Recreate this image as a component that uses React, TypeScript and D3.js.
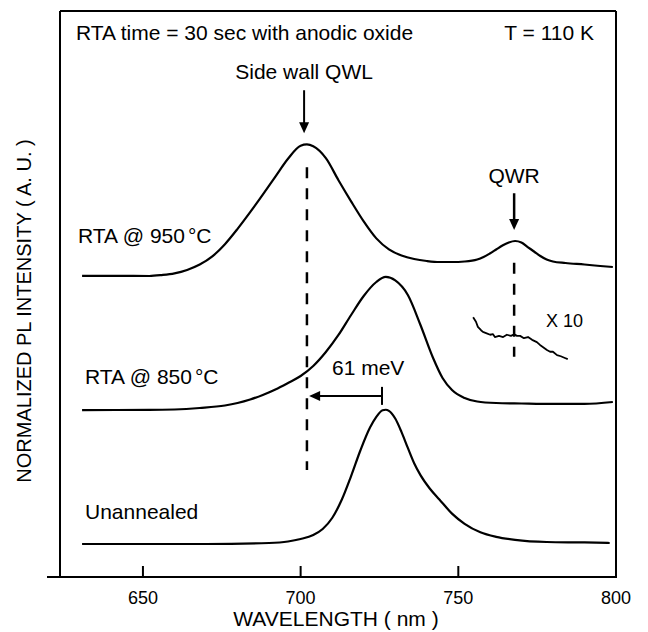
import React from "react";
import * as d3 from "d3";

// ---- data (wavelength nm, normalized PL intensity A.U. incl. vertical offset) ----
const X_TICKS = [650, 700, 750, 800];

const RTA950: [number, number][] = [
  [630.7, 5.32], [642.0, 5.32], [652, 5.318], [656, 5.335], [660, 5.365], [664, 5.425],
  [668, 5.52], [672, 5.665], [676, 5.88], [680, 6.15], [684, 6.445], [688, 6.755],
  [692, 7.075], [696, 7.39], [700, 7.62], [702, 7.642], [704, 7.61], [708, 7.4],
  [712, 7.01], [716, 6.637], [720, 6.283], [724, 5.983], [728, 5.789], [732, 5.68],
  [736, 5.618], [740, 5.583], [744, 5.565], [748, 5.565], [752, 5.574], [756, 5.609],
  [758, 5.654], [760, 5.716], [762, 5.786], [764, 5.857], [766, 5.91], [768, 5.936],
  [770, 5.91], [772, 5.83], [774, 5.751], [776, 5.671], [778, 5.609], [780, 5.574],
  [784, 5.548], [790, 5.521], [795, 5.495], [799, 5.477],
];

const RTA850: [number, number][] = [
  [630.7, 2.95], [652, 2.951], [660, 2.959], [668, 2.986], [676, 3.03], [680, 3.074],
  [684, 3.136], [688, 3.216], [692, 3.313], [696, 3.428], [700, 3.551], [704, 3.728],
  [708, 3.975], [712, 4.276], [716, 4.629], [720, 4.965], [724, 5.212], [727, 5.301],
  [730, 5.239], [734, 4.982], [738, 4.452], [742, 3.869], [745, 3.516], [748, 3.304],
  [752, 3.163], [756, 3.101], [762, 3.074], [770, 3.065], [780, 3.057], [790, 3.057],
  [799, 3.092],
];

const UNANNEALED: [number, number][] = [
  [630.7, 0.583], [670, 0.583], [690, 0.601], [696, 0.627], [700, 0.671], [704, 0.742],
  [707, 0.848], [710, 1.042], [713, 1.36], [716, 1.784], [719, 2.244], [722, 2.64],
  [724, 2.83], [726, 2.945], [727, 2.955], [728, 2.935], [730, 2.8], [732, 2.56],
  [734, 2.28], [736, 2.01], [738, 1.8], [741, 1.56], [744, 1.37], [748, 1.12],
  [752, 0.94], [757, 0.79], [762, 0.71], [768, 0.656], [778, 0.618], [790, 0.61],
  [798, 0.601],
];

const X10: [number, number][] = [
  [754.7, 4.59], [755.6, 4.51], [756.2, 4.42], [757.2, 4.36], [757.8, 4.33], [758.8, 4.31],
  [760.1, 4.28], [761.0, 4.29], [761.6, 4.24], [762.9, 4.26], [764.2, 4.24], [765.4, 4.28],
  [766.7, 4.26], [767.7, 4.29], [768.6, 4.26], [769.6, 4.26], [770.8, 4.22], [772.1, 4.24],
  [773.4, 4.19], [774.9, 4.15], [775.9, 4.1], [776.9, 4.06], [778.1, 4.01], [779.1, 3.98],
  [780.0, 3.98], [781.3, 3.92], [782.5, 3.9], [783.8, 3.87], [784.7, 3.85],
];

// annotation values
const QWL_NM = 702.0;
const QWL_PEAK_NM = 701.1;
const QWR_NM = 767.7;
const QWL_DASH = [7.24, 1.89];
const QWR_DASH = [5.55, 3.89];
const QWL_ARROW = [8.6, 7.84];
const QWR_ARROW = [6.78, 6.13];
const SHIFT_FROM = 725.8;
const SHIFT_TO = 702.7;
const SHIFT_Y = 3.2;

const W = 648;
const H = 632;
const FONT = "'Liberation Sans', Arial, Helvetica, sans-serif";

export default function App() {
  const x = d3.scaleLinear().domain([623.7, 800]).range([60, 616]);
  const y = d3.scaleLinear().domain([0, 10]).range([577, 11]);

  const smooth = d3
    .line<[number, number]>()
    .x((d) => x(d[0]))
    .y((d) => y(d[1]))
    .curve(d3.curveMonotoneX);
  const jag = d3
    .line<[number, number]>()
    .x((d) => x(d[0]))
    .y((d) => y(d[1]));

  const stroke = "#000";
  const arrowHead = (cx: number, tipY: number) => {
    const hw = 5;
    const hl = 11;
    return `M${cx},${tipY} L${cx - hw},${tipY - hl} L${cx + hw},${tipY - hl} Z`;
  };

  const sx1 = x(SHIFT_FROM);
  const sx2 = x(SHIFT_TO);
  const sy = y(SHIFT_Y);

  return (
    <svg
      width={W}
      height={H}
      style={{ position: "absolute", left: 0, top: 0, background: "#fff" }}
      fontFamily={FONT}
    >
      <rect x={0} y={0} width={W} height={H} fill="#fff" />
      {/* frame */}
      <line x1={x(623.7)} x2={x(800)} y1={y(10)} y2={y(10)} stroke={stroke} strokeWidth={2} />
      <line x1={x(800)} x2={x(800)} y1={y(10)} y2={y(0)} stroke={stroke} strokeWidth={2} />
      <line x1={x(623.7)} x2={x(623.7)} y1={y(10)} y2={y(0)} stroke={stroke} strokeWidth={2} />
      <line x1={47} x2={x(800) + 1} y1={y(0)} y2={y(0)} stroke={stroke} strokeWidth={2} />
      {X_TICKS.map((t) => (
        <g key={t}>
          {t < 800 && (
            <line x1={x(t)} x2={x(t)} y1={y(0)} y2={y(0) - 11} stroke={stroke} strokeWidth={2} />
          )}
          <text x={x(t)} y={604} textAnchor="middle" fontSize={18}>
            {t}
          </text>
        </g>
      ))}
      <text x={336} y={626} textAnchor="middle" fontSize={21}>
        WAVELENGTH ( nm )
      </text>
      <text
        transform={`translate(24,311) rotate(-90)`}
        textAnchor="middle"
        dy="0.35em"
        fontSize={20}
      >
        NORMALIZED PL INTENSITY ( A. U. )
      </text>

      {/* curves */}
      <path d={smooth(RTA950) || ""} fill="none" stroke={stroke} strokeWidth={2.2} strokeLinejoin="round" />
      <path d={smooth(RTA850) || ""} fill="none" stroke={stroke} strokeWidth={2.2} strokeLinejoin="round" />
      <path d={smooth(UNANNEALED) || ""} fill="none" stroke={stroke} strokeWidth={2.2} strokeLinejoin="round" />
      <path d={jag(X10) || ""} fill="none" stroke={stroke} strokeWidth={1.8} strokeLinejoin="round" />

      {/* dashed guides */}
      <line
        x1={x(QWL_NM)} x2={x(QWL_NM)} y1={y(QWL_DASH[0])} y2={y(QWL_DASH[1])}
        stroke={stroke} strokeWidth={2.5} strokeDasharray="11,10"
      />
      <line
        x1={x(QWR_NM)} x2={x(QWR_NM)} y1={y(QWR_DASH[0])} y2={y(QWR_DASH[1])}
        stroke={stroke} strokeWidth={2.5} strokeDasharray="11,10"
      />

      {/* arrows */}
      <line x1={x(QWL_PEAK_NM)} x2={x(QWL_PEAK_NM)} y1={y(QWL_ARROW[0])} y2={y(QWL_ARROW[1]) - 8} stroke={stroke} strokeWidth={2} />
      <path d={arrowHead(x(QWL_PEAK_NM), y(QWL_ARROW[1]))} fill={stroke} />
      <line x1={x(QWR_NM)} x2={x(QWR_NM)} y1={y(QWR_ARROW[0])} y2={y(QWR_ARROW[1]) - 8} stroke={stroke} strokeWidth={2.5} />
      <path d={arrowHead(x(QWR_NM), y(QWR_ARROW[1]))} fill={stroke} />

      {/* 61 meV shift arrow */}
      <line x1={sx1} x2={sx2 + 8} y1={sy} y2={sy} stroke={stroke} strokeWidth={2} />
      <path d={`M${sx2},${sy} L${sx2 + 11},${sy - 5} L${sx2 + 11},${sy + 5} Z`} fill={stroke} />
      <line x1={sx1} x2={sx1} y1={sy - 9} y2={sy + 9} stroke={stroke} strokeWidth={2} />

      {/* labels */}
      <text x={76} y={40} fontSize={21}>RTA time = 30 sec with anodic oxide</text>
      <text x={594} y={40} fontSize={21} textAnchor="end">T = 110 K</text>
      <text x={x(QWL_PEAK_NM)} y={79} fontSize={21} textAnchor="middle">Side wall QWL</text>
      <text x={x(QWR_NM)} y={183} fontSize={21} textAnchor="middle">QWR</text>
      <text x={78} y={243} fontSize={21}>
        RTA @ 950<tspan dx={3}>°</tspan>C
      </text>
      <text x={85} y={384} fontSize={21}>
        RTA @ 850<tspan dx={3}>°</tspan>C
      </text>
      <text x={332} y={375} fontSize={21}>61 meV</text>
      <text x={546} y={327} fontSize={18}>X 10</text>
      <text x={85} y={519} fontSize={21}>Unannealed</text>
    </svg>
  );
}
